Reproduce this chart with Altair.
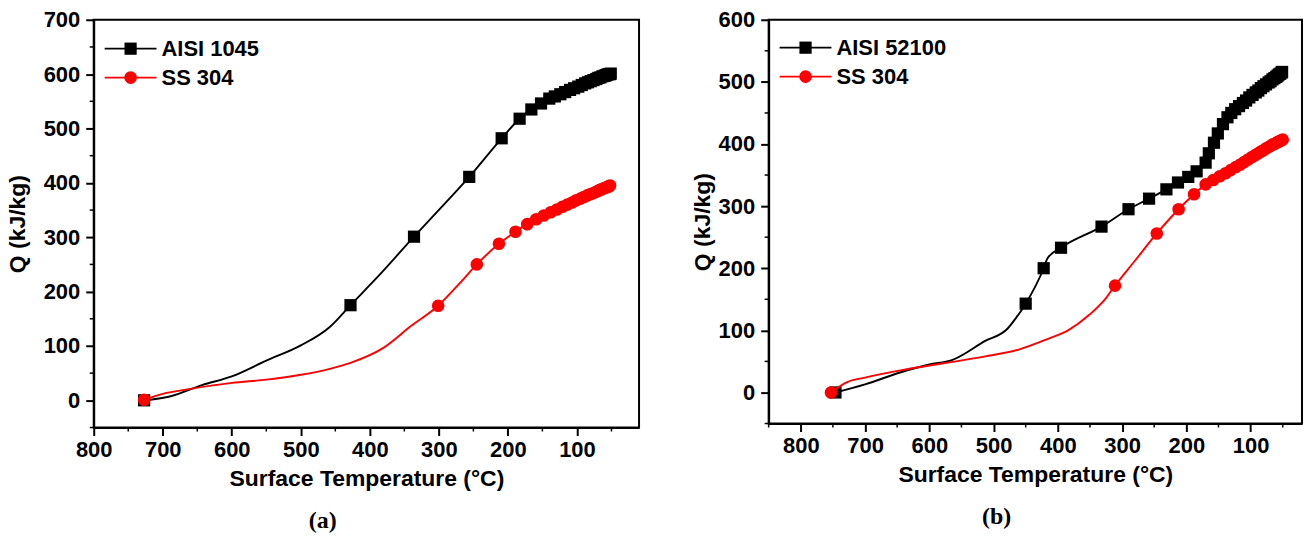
import altair as alt
import pandas as pd

# ---------------- Panel (a) ----------------
a_1045_mark_T = [727, 428, 336, 256, 209, 183, 166, 152, 140, 132, 124, 117, 110, 104, 98, 93, 88, 84, 80, 76, 72, 69, 66, 63, 60, 58, 56, 54, 52, 51]
a_1045_mark_Q = [0, 175, 301, 411, 482, 518, 535, 546, 555, 559, 563, 567, 571, 574, 577, 580, 583, 585, 587, 589, 591, 593, 594, 596, 597, 598, 599, 600, 600, 601]
a_1045_curve_T = [690, 643, 600, 550, 500, 458, 385, 303]
a_1045_curve_Q = [7, 28, 44, 73, 101, 135, 232, 346]

a_304_mark_T = [727, 301, 245, 213, 189, 172, 159, 148, 138, 129, 121, 114, 107, 101, 95, 90, 85, 81, 77, 73, 70, 67, 64, 61, 59, 57, 55, 53, 52]
a_304_mark_Q = [1, 174, 250, 288, 310, 324, 333, 340, 346, 351, 356, 360, 364, 368, 371, 374, 377, 379, 381, 383, 385, 387, 388, 390, 391, 392, 393, 394, 395]
a_304_curve_T = [700, 660, 600, 550, 500, 458, 428, 381, 340, 270]
a_304_curve_Q = [12, 21, 32, 38, 47, 58, 69, 96, 137, 215]

# ---------------- Panel (b) ----------------
b_52100_mark_T = [746, 450, 422, 395, 332, 290, 258, 231, 213, 197, 184, 170, 165, 157, 151, 143, 136, 130, 124, 118, 112, 107, 102, 97, 92, 88, 84, 80, 76, 72, 69, 66, 63, 60, 58, 56, 54, 52, 51]
b_52100_mark_Q = [0, 143, 200, 233, 267, 295, 312, 327, 338, 347, 356, 370, 385, 402, 417, 432, 443, 450, 456, 461, 466, 470, 475, 479, 483, 486, 490, 493, 496, 499, 501, 504, 506, 508, 510, 512, 513, 515, 516]
b_52100_curve_T = [700, 643, 600, 565, 513, 478, 465, 416]
b_52100_curve_Q = [13, 33, 45, 52, 83, 103, 120, 216]

b_304_mark_T = [753, 311, 246, 212, 188, 170, 158, 148, 139, 131, 123, 116, 110, 104, 98, 93, 88, 84, 80, 76, 72, 69, 66, 63, 60, 58, 56, 54, 52, 50]
b_304_mark_Q = [0, 172, 256, 295, 319, 335, 342, 348, 353, 358, 363, 367, 371, 375, 379, 382, 385, 388, 390, 393, 395, 397, 399, 400, 402, 403, 404, 405, 406, 407]
b_304_curve_T = [727, 700, 643, 578, 513, 461, 416, 384, 351, 325, 280]
b_304_curve_Q = [17, 24, 36, 47, 58, 69, 86, 100, 125, 152, 212]

x_ticks = [800, 700, 600, 500, 400, 300, 200, 100]
a_x_minor = [750, 650, 550, 450, 350, 250, 150, 50]
b_x_minor = [850, 750, 650, 550, 450, 350, 250, 150, 50]
a_y_ticks = [0, 100, 200, 300, 400, 500, 600, 700]
a_y_minor = [-50, 50, 150, 250, 350, 450, 550, 650]
b_y_ticks = [0, 100, 200, 300, 400, 500, 600]
b_y_minor = [-50, 50, 150, 250, 350, 450, 550]

FONT = "Liberation Sans"


def series_layers(mark_T, mark_Q, curve_T, curve_Q, color, shape, size, x_enc, y_enc):
    line_df = pd.DataFrame({"T": mark_T + curve_T, "Q": mark_Q + curve_Q}).sort_values("T")
    mark_df = pd.DataFrame({"T": mark_T, "Q": mark_Q})
    line = alt.Chart(line_df).mark_line(color=color, strokeWidth=1.9, interpolate="monotone").encode(
        x=x_enc, y=y_enc)
    pts = alt.Chart(mark_df).mark_point(shape=shape, filled=True, size=size, color=color, opacity=1).encode(
        x=x_enc, y=y_enc)
    return [line, pts]


def legend_layers(y, color, shape, size, label):
    one = alt.Data(values=[{}])
    rule = alt.Chart(one).mark_rule(color=color, strokeWidth=1.9).encode(
        x=alt.value(11), x2=alt.value(63), y=alt.value(y))
    pt = alt.Chart(one).mark_point(shape=shape, filled=True, size=size, color=color, opacity=1).encode(
        x=alt.value(37), y=alt.value(y))
    txt = alt.Chart(one).mark_text(align="left", baseline="middle", font=FONT, fontSize=22,
                                    fontWeight="bold", color="black").encode(
        x=alt.value(68), y=alt.value(y), text=alt.value(label))
    return [rule, pt, txt]


def panel(black, red, black_name, xdom, ydom, y_ticks, x_minor, y_minor, w, h, ytitle_pad, label, leg_y):
    x_enc = alt.X("T:Q", scale=alt.Scale(domain=xdom, reverse=True, nice=False, zero=False),
                  axis=alt.Axis(values=x_ticks, title="Surface Temperature (°C)", grid=False,
                                tickSize=8, labelPadding=4, titlePadding=7, format="d",
                                labelFlush=False))
    y_enc = alt.Y("Q:Q", scale=alt.Scale(domain=ydom, nice=False, zero=False),
                  axis=alt.Axis(values=y_ticks, title="Q (kJ/kg)", grid=False,
                                tickSize=8, labelPadding=6, titlePadding=ytitle_pad, format="d",
                                labelFlush=False))
    layers = []
    layers += series_layers(*black, "black", "square", 150, x_enc, y_enc)
    layers += series_layers(*red, "#ff0000", "circle", 160, x_enc, y_enc)
    xm = alt.Chart(pd.DataFrame({"T": x_minor})).mark_rule(color="black", strokeWidth=1.5).encode(
        x=x_enc, y=alt.value(h), y2=alt.value(h + 4))
    ym = alt.Chart(pd.DataFrame({"Q": y_minor})).mark_rule(color="black", strokeWidth=1.5).encode(
        y=y_enc, x=alt.value(-4), x2=alt.value(0))
    layers += [xm, ym]
    layers += legend_layers(leg_y[0], "black", "square", 150, black_name)
    layers += legend_layers(leg_y[1], "#ff0000", "circle", 160, "SS 304")
    return alt.layer(*layers).properties(
        width=w, height=h,
        title=alt.TitleParams(label, orient="bottom", anchor="middle", frame="bounds",
                              font="Liberation Serif", fontSize=24, fontWeight="bold",
                              color="black", offset=19))


left = panel((a_1045_mark_T, a_1045_mark_Q, a_1045_curve_T, a_1045_curve_Q),
             (a_304_mark_T, a_304_mark_Q, a_304_curve_T, a_304_curve_Q),
             "AISI 1045", [10, 800], [-50, 700], a_y_ticks, a_x_minor, a_y_minor,
             547, 409, 14, "(a)", (29, 58))
right = panel((b_52100_mark_T, b_52100_mark_Q, b_52100_curve_T, b_52100_curve_Q),
              (b_304_mark_T, b_304_mark_Q, b_304_curve_T, b_304_curve_Q),
              "AISI 52100", [20, 850], [-50, 600], b_y_ticks, b_x_minor, b_y_minor,
              535, 405, 4, "(b)", (28, 57))

chart = alt.hconcat(left, right, spacing=50).properties(
    padding={"left": 5, "top": 7, "right": 2, "bottom": 2}
).configure_view(stroke="black", strokeWidth=2).configure_axis(
    labelFont=FONT, labelFontSize=22, labelFontWeight="bold", labelColor="black",
    titleFont=FONT, titleFontSize=23, titleFontWeight="bold", titleColor="black",
    domainColor="black", domainWidth=2, tickColor="black", tickWidth=2
)

chart.save("out.html", embed_options={"renderer": "svg", "actions": False})
